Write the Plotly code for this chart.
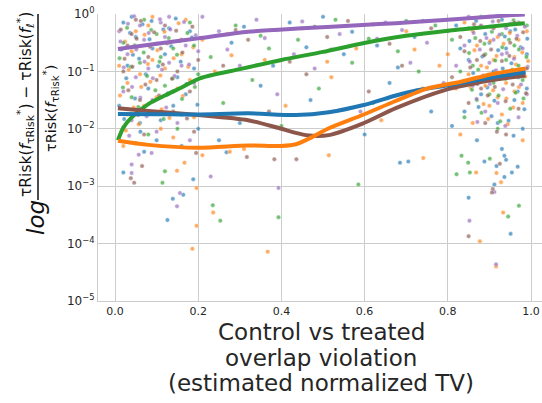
import plotly.graph_objects as go

# ---------------- data (x = normalized TV, ly = log10 of relative regret) -------------
# smoothed curves
purple_x = [0.007, 0.1, 0.2, 0.32, 0.45, 0.595, 0.675, 0.791, 0.95, 0.985]
purple_ly = [-0.61, -0.52, -0.425, -0.31, -0.25, -0.19, -0.16, -0.105, -0.02, -0.01]
green_x = [0.007, 0.02, 0.04, 0.08, 0.12, 0.16, 0.204, 0.30, 0.40, 0.50, 0.596, 0.70, 0.80, 0.90, 0.985]
green_ly = [-2.2, -1.98, -1.8, -1.57, -1.42, -1.28, -1.12, -0.96, -0.80, -0.66, -0.51, -0.38, -0.29, -0.22, -0.16]
blue_x = [0.007, 0.1, 0.2, 0.32, 0.435, 0.514, 0.595, 0.675, 0.719, 0.80, 0.911, 0.987]
blue_ly = [-1.74, -1.745, -1.75, -1.73, -1.76, -1.71, -1.59, -1.42, -1.34, -1.24, -1.10, -1.01]
orange_x = [0.007, 0.08, 0.2, 0.32, 0.40, 0.435, 0.475, 0.514, 0.595, 0.673, 0.75, 0.831, 0.911, 0.987]
orange_ly = [-2.21, -2.28, -2.33, -2.29, -2.30, -2.27, -2.14, -1.99, -1.76, -1.52, -1.30, -1.18, -1.04, -0.95]
brown_x = [0.007, 0.08, 0.2, 0.32, 0.395, 0.459, 0.514, 0.595, 0.675, 0.791, 0.9, 0.987]
brown_ly = [-1.64, -1.69, -1.76, -1.85, -1.99, -2.11, -2.11, -1.91, -1.64, -1.33, -1.16, -1.07]

# scatter points per estimator (x, log10 y)
blue_pts = [(0.02, -2.76), (0.139, -3.22), (0.126, -3.59), (0.164, -3.15), (0.188, -2.88), (0.268, -2.41),
            (0.685, -2.59), (0.705, -2.57), (0.888, -2.57), (0.917, -2.65), (0.94, -2.54), (0.936, -2.47),
            (0.968, -2.66), (0.954, -2.76), (0.936, -2.84), (0.912, -2.97), (0.85, -3.20), (0.951, -3.83),
            (0.02, -0.15), (0.05, -0.4), (0.03, -0.9), (0.08, -1.3), (0.06, -1.9), (0.12, -0.7), (0.15, -1.1),
            (0.1, -2.2), (0.18, -0.3), (0.14, -1.6), (0.2, -2.0), (0.04, -0.05), (0.09, -0.6), (0.17, -1.4),
            (0.11, -1.85), (0.07, -2.4), (0.13, -0.25), (0.19, -0.95), (0.01, -1.6), (0.16, -2.3),
            (0.28, -0.5), (0.3, -1.9), (0.35, -1.25), (0.42, -0.15), (0.47, -1.5), (0.55, -0.7), (0.6, -2.1),
            (0.66, -1.2), (0.72, -0.4), (0.76, -1.7), (0.25, -2.2), (0.38, -0.9), (0.5, -0.05), (0.63, -0.55),
            (0.82, -0.2), (0.85, -0.8), (0.88, -1.4), (0.9, -0.5), (0.92, -1.9), (0.95, -0.3), (0.97, -1.1),
            (0.99, -0.7), (0.84, -1.7), (0.87, -2.2), (0.93, -0.1), (0.96, -1.5), (0.91, -1.0), (0.98, -2.0),
            (0.94, -0.6), (0.86, -1.2), (0.89, -0.35), (0.81, -1.95), (0.97, -0.15), (0.93, -2.35), (0.99, -1.3),
            (0.83, -0.6),
            (0.015, -0.62), (0.027, -1.12), (0.036, -0.33), (0.048, -1.47), (0.058, -0.78), (0.066, -0.18),
            (0.074, -1.05), (0.083, -0.44), (0.095, -1.72), (0.104, -0.91), (0.116, -0.27), (0.127, -1.38),
            (0.135, -0.56), (0.146, -0.08), (0.158, -0.83), (0.172, -1.22), (0.185, -0.41), (0.198, -1.58),
            (0.022, -1.83), (0.061, -2.05), (0.043, -0.71), (0.088, -0.12),
            (0.852, -0.47), (0.861, -1.03), (0.868, -0.12), (0.874, -1.62), (0.883, -0.74), (0.895, -1.28),
            (0.903, -0.22), (0.912, -1.51), (0.921, -0.63), (0.928, -1.07), (0.937, -0.39), (0.946, -1.86),
            (0.953, -0.86), (0.962, -0.27), (0.968, -1.35), (0.975, -0.58), (0.984, -1.66), (0.991, -0.43),
            (0.958, -2.12), (0.932, -0.95), (0.905, -1.78), (0.978, -0.97),
            (0.31, -0.22), (0.46, -0.58), (0.57, -0.31), (0.68, -0.93), (0.74, -0.12)]
orange_pts = [(0.149, -2.73), (0.167, -2.59), (0.196, -3.03), (0.196, -3.69), (0.186, -4.09), (0.21, -2.46),
              (0.236, -3.46), (0.276, -2.40), (0.367, -4.14), (0.514, -2.46), (0.741, -2.51), (0.868, -2.76),
              (0.917, -2.77), (0.928, -2.93), (0.877, -3.96), (0.916, -4.40), (0.933, -3.46),
              (0.01, -0.9), (0.03, -1.2), (0.05, -0.3), (0.07, -1.6), (0.09, -0.8), (0.11, -2.0), (0.13, -0.5),
              (0.15, -1.3), (0.17, -0.1), (0.19, -1.8), (0.02, -2.3), (0.04, -0.65), (0.06, -1.05), (0.08, -0.2),
              (0.1, -1.45), (0.12, -0.95), (0.14, -2.15), (0.16, -0.7), (0.18, -1.15), (0.21, -0.45), (0.03, -1.75),
              (0.09, -0.05), (0.24, -1.0), (0.27, -0.35), (0.31, -2.35), (0.36, -0.8), (0.41, -1.6), (0.45, -0.25),
              (0.52, -1.1), (0.58, -0.6), (0.64, -1.85), (0.7, -0.3), (0.74, -1.3), (0.78, -0.9),
              (0.8, -0.7), (0.82, -1.3), (0.84, -0.15), (0.86, -1.9), (0.88, -0.9), (0.9, -1.6), (0.92, -0.4),
              (0.94, -1.2), (0.96, -0.75), (0.98, -1.55), (0.99, -0.3), (0.83, -2.1), (0.85, -1.05), (0.87, -0.55),
              (0.89, -1.25), (0.91, -0.8), (0.93, -1.75), (0.95, -1.0), (0.97, -0.45), (0.98, -2.2), (0.9, -0.05),
              (0.96, -1.35), (0.86, -0.3), (0.92, -1.45),
              (0.012, -1.42), (0.024, -0.48), (0.033, -0.97), (0.045, -1.63), (0.053, -0.58), (0.063, -1.27),
              (0.071, -0.36), (0.079, -0.87), (0.092, -1.52), (0.102, -0.63), (0.109, -1.07), (0.119, -0.31),
              (0.131, -1.81), (0.141, -0.77), (0.153, -0.16), (0.163, -1.43), (0.176, -0.92), (0.188, -0.58),
              (0.026, -2.03), (0.057, -1.92), (0.085, -1.18), (0.112, -1.66),
              (0.855, -1.28), (0.864, -0.63), (0.872, -1.12), (0.879, -0.21), (0.886, -1.57), (0.894, -0.93),
              (0.902, -0.47), (0.909, -1.33), (0.917, -0.73), (0.925, -1.12), (0.934, -0.52), (0.941, -1.47),
              (0.949, -0.33), (0.957, -1.63), (0.964, -0.88), (0.971, -1.27), (0.979, -0.67), (0.986, -1.09),
              (0.993, -0.82), (0.944, -1.92), (0.897, -1.83), (0.972, -0.16),
              (0.28, -0.72), (0.39, -0.28), (0.51, -0.83), (0.62, -0.18), (0.72, -0.62)]
green_pts = [(0.114, -2.94), (0.12, -2.74), (0.235, -3.33), (0.253, -3.60), (0.393, -3.54), (0.585, -2.97),
             (0.821, -2.79), (0.833, -2.47), (0.849, -2.59), (0.853, -2.76), (0.901, -2.52), (0.945, -3.53),
             (0.971, -3.34),
             (0.02, -0.5), (0.04, -1.45), (0.06, -0.85), (0.08, -2.1), (0.1, -0.35), (0.12, -1.25), (0.14, -0.6),
             (0.16, -1.75), (0.18, -0.15), (0.2, -1.05), (0.05, -2.25), (0.11, -0.75), (0.15, -2.0), (0.19, -0.55),
             (0.07, -0.1), (0.23, -0.75), (0.26, -1.55), (0.29, -0.2), (0.33, -1.15), (0.37, -0.6), (0.4, -1.95),
             (0.44, -0.45), (0.49, -1.3), (0.53, -0.1), (0.57, -0.85), (0.62, -1.55), (0.68, -0.65), (0.73, -1.0),
             (0.77, -0.2), (0.81, -0.45), (0.83, -1.0), (0.85, -0.25), (0.87, -1.5), (0.89, -0.7), (0.91, -1.2),
             (0.93, -0.35), (0.95, -1.65), (0.97, -0.9), (0.99, -0.2), (0.84, -1.8), (0.88, -0.05), (0.92, -2.0),
             (0.96, -0.55), (0.98, -1.15), (0.9, -1.4), (0.94, -0.8), (0.86, -0.9),
             (0.011, -0.77), (0.019, -1.28), (0.029, -0.24), (0.038, -0.92), (0.047, -0.55), (0.056, -1.62),
             (0.069, -0.67), (0.077, -1.08), (0.087, -0.28), (0.097, -1.33), (0.107, -0.83), (0.117, -1.83),
             (0.129, -0.42), (0.139, -1.12), (0.149, -0.71), (0.161, -1.48), (0.174, -0.33), (0.192, -1.27),
             (0.851, -0.68), (0.858, -1.32), (0.866, -0.42), (0.873, -0.97), (0.881, -1.72), (0.888, -0.52),
             (0.897, -1.06), (0.906, -0.31), (0.914, -0.81), (0.922, -1.42), (0.931, -0.58), (0.939, -1.13),
             (0.947, -0.45), (0.955, -0.97), (0.963, -1.37), (0.971, -0.62), (0.982, -1.47), (0.989, -0.75),
             (0.926, -1.87), (0.958, -0.11),
             (0.35, -0.38), (0.48, -0.22), (0.61, -0.43), (0.7, -0.12)]
purple_pts = [(0.04, -2.77), (0.04, -2.62), (0.057, -2.45), (0.088, -2.42), (0.156, -3.12), (0.149, -3.35),
              (0.23, -2.83), (0.393, -3.03), (0.912, -3.10), (0.852, -3.60), (0.916, -4.36),
              (0.01, -0.3), (0.03, -0.7), (0.05, -1.1), (0.07, -0.45), (0.09, -1.5), (0.11, -0.15), (0.13, -0.85),
              (0.15, -1.9), (0.17, -0.55), (0.19, -1.2), (0.21, -0.05), (0.04, -1.85), (0.06, -0.2), (0.08, -0.95),
              (0.1, -2.05), (0.12, -0.4), (0.14, -1.35), (0.16, -0.9), (0.18, -2.2), (0.2, -0.65), (0.02, -1.35),
              (0.13, -0.05), (0.25, -0.3), (0.3, -0.9), (0.34, -0.1), (0.39, -1.4), (0.43, -0.7), (0.48, -0.95),
              (0.54, -0.35), (0.59, -1.7), (0.65, -0.15), (0.71, -0.85), (0.75, -0.5), (0.79, -1.2),
              (0.8, -0.3), (0.82, -0.9), (0.84, -0.55), (0.86, -1.25), (0.88, -0.2), (0.9, -0.85), (0.92, -1.55),
              (0.94, -0.25), (0.96, -1.05), (0.98, -0.6), (0.99, -1.4), (0.85, -0.05), (0.89, -1.7), (0.93, -0.7),
              (0.97, -1.8), (0.91, -0.45),
              (0.013, -0.48), (0.021, -0.93), (0.031, -0.17), (0.041, -1.27), (0.051, -0.62), (0.061, -1.46),
              (0.071, -0.83), (0.081, -0.33), (0.091, -1.12), (0.101, -0.52), (0.113, -0.97), (0.123, -1.63),
              (0.133, -0.27), (0.143, -1.08), (0.155, -0.47), (0.166, -0.14), (0.178, -0.88), (0.194, -0.37),
              (0.034, -2.12), (0.076, -1.78), (0.108, -0.09), (0.046, -0.04),
              (0.853, -0.83), (0.862, -0.33), (0.869, -1.48), (0.877, -0.62), (0.885, -1.07), (0.893, -0.42),
              (0.901, -1.22), (0.908, -0.13), (0.916, -0.98), (0.924, -0.36), (0.933, -1.31), (0.942, -0.68),
              (0.951, -0.17), (0.959, -0.78), (0.967, -0.38), (0.976, -1.23), (0.985, -0.22), (0.992, -0.92),
              (0.938, -1.95), (0.871, -1.88),
              (0.27, -0.62), (0.36, -0.42), (0.45, -0.13), (0.52, -0.62), (0.63, -0.43), (0.69, -0.28)]
brown_pts = [(0.038, -2.86), (0.046, -2.94), (0.065, -2.65), (0.195, -2.42), (0.317, -2.49), (0.383, -2.53),
             (0.436, -2.53), (0.925, -2.61), (0.908, -3.05), (0.906, -3.11), (0.85, -3.87),
             (0.02, -1.0), (0.04, -0.35), (0.06, -1.5), (0.08, -0.75), (0.1, -1.15), (0.12, -0.2), (0.14, -1.7),
             (0.16, -0.45), (0.18, -1.35), (0.2, -0.8), (0.03, -0.55), (0.07, -2.1), (0.11, -0.6), (0.15, -1.0),
             (0.19, -2.05), (0.05, -0.1), (0.26, -0.9), (0.32, -0.45), (0.37, -1.7), (0.46, -1.05), (0.51, -0.4),
             (0.61, -1.35), (0.69, -0.9), (0.76, -0.25), (0.81, -1.1), (0.83, -0.4), (0.85, -1.55), (0.87, -0.8),
             (0.89, -1.9), (0.91, -0.25), (0.93, -1.1), (0.95, -0.5), (0.97, -1.65), (0.99, -0.95), (0.88, -1.3),
             (0.94, -2.1), (0.96, -0.15), (0.84, -0.65),
             (0.014, -0.27), (0.023, -0.78), (0.032, -1.33), (0.042, -0.92), (0.052, -0.43), (0.062, -0.12),
             (0.073, -1.23), (0.084, -0.57), (0.094, -0.32), (0.106, -1.42), (0.115, -0.88), (0.125, -0.51),
             (0.137, -1.13), (0.147, -0.29), (0.162, -0.67), (0.173, -1.82), (0.186, -0.22), (0.055, -1.76),
             (0.854, -0.93), (0.863, -0.18), (0.871, -1.22), (0.878, -0.47), (0.887, -0.72), (0.896, -1.42),
             (0.904, -0.62), (0.913, -1.27), (0.922, -0.12), (0.93, -0.82), (0.939, -1.52), (0.948, -0.73),
             (0.956, -1.23), (0.965, -0.43), (0.973, -0.97), (0.981, -0.32), (0.988, -1.38), (0.918, -2.05),
             (0.29, -0.28), (0.42, -0.83), (0.56, -0.12), (0.66, -0.52)]

x_ticks = [0.0, 0.2, 0.4, 0.6, 0.8, 1.0]
x_tick_labels = ["0.0", "0.2", "0.4", "0.6", "0.8", "1.0"]
y_ticks = [1e-5, 1e-4, 1e-3, 1e-2, 1e-1, 1e0]
y_tick_labels = ["10<sup>−5</sup>", "10<sup>−4</sup>", "10<sup>−3</sup>", "10<sup>−2</sup>",
                 "10<sup>−1</sup>", "10<sup>0</sup>"]
x_title_lines = ["Control vs treated", "overlap violation", "(estimated normalized TV)"]

BLUE, ORANGE, GREEN, PURPLE, BROWN = "#1f77b4", "#ff7f0e", "#2ca02c", "#9467bd", "#8c564b"

fig = go.Figure()

for pts, col in [(blue_pts, BLUE), (orange_pts, ORANGE), (green_pts, GREEN),
                 (purple_pts, PURPLE), (brown_pts, BROWN)]:
    fig.add_trace(go.Scatter(
        x=[p[0] for p in pts], y=[10 ** p[1] for p in pts], mode="markers",
        marker=dict(size=4.5, color=col, opacity=0.65, line=dict(color="white", width=0.5)),
        showlegend=False, hoverinfo="skip"))

for xs, lys, col in [(purple_x, purple_ly, PURPLE), (green_x, green_ly, GREEN),
                     (brown_x, brown_ly, BROWN), (blue_x, blue_ly, BLUE),
                     (orange_x, orange_ly, ORANGE)]:
    fig.add_trace(go.Scatter(
        x=xs, y=[10 ** v for v in lys], mode="lines",
        line=dict(color=col, width=4, shape="spline", smoothing=0.7),
        showlegend=False, hoverinfo="skip"))

# layout geometry (pixels)
W, H = 542, 403
L, R, T, B = 98, 542, 14, 301
pw, ph = R - L, B - T


def px(xp):
    return (xp - L) / pw


def py(yp):
    return (B - yp) / ph


TXT = "#262626"
FONT = "DejaVu Sans"

fig.update_layout(
    width=W, height=H,
    margin=dict(l=L, r=W - R, t=T, b=H - B, pad=0),
    paper_bgcolor="white", plot_bgcolor="white",
    font=dict(family=FONT, color=TXT, size=11),
    xaxis=dict(range=[-0.0409, 1.0264], tickvals=x_ticks, ticktext=x_tick_labels,
               showgrid=True, gridcolor="#cccccc", gridwidth=1, zeroline=False,
               showline=True, linecolor="#cccccc", linewidth=1, ticks="",
               tickfont=dict(size=11, color=TXT)),
    yaxis=dict(type="log", range=[-5, 0], tickvals=y_ticks, ticktext=y_tick_labels,
               showgrid=True, gridcolor="#cccccc", gridwidth=1, zeroline=False,
               showline=True, linecolor="#cccccc", linewidth=1, ticks="",
               tickfont=dict(size=12, color=TXT)),
)

# x-axis title, one annotation per line
for i, line in enumerate(x_title_lines):
    fig.add_annotation(text=line, xref="paper", yref="paper", x=px(321), y=py(332 + 25.5 * i),
                       xanchor="center", yanchor="middle", showarrow=False,
                       font=dict(size=23, color=TXT, family=FONT))

# y-axis title: log + fraction
fig.add_annotation(text="<i>log</i>", xref="paper", yref="paper", x=px(36), y=py(218),
                   xanchor="center", yanchor="middle", textangle=-90, showarrow=False,
                   font=dict(size=23, color="#111111", family=FONT))
fig.add_annotation(text="τRisk(<i>f</i><sub>τRisk</sub><sup>*</sup>) − τRisk(<i>f</i><sub>ℓ</sub><sup>*</sup>)",
                   xref="paper", yref="paper", x=px(26), y=py(105),
                   xanchor="center", yanchor="middle", textangle=-90, showarrow=False,
                   font=dict(size=15.5, color="#111111", family=FONT))
fig.add_annotation(text="τRisk(<i>f</i><sub>τRisk</sub><sup>*</sup>)",
                   xref="paper", yref="paper", x=px(51), y=py(109),
                   xanchor="center", yanchor="middle", textangle=-90, showarrow=False,
                   font=dict(size=14.5, color="#111111", family=FONT))
fig.add_shape(type="line", xref="paper", yref="paper", x0=px(38), x1=px(38), y0=py(200), y1=py(14),
              line=dict(color="#111111", width=1.5))

fig.write_html("out.html")
